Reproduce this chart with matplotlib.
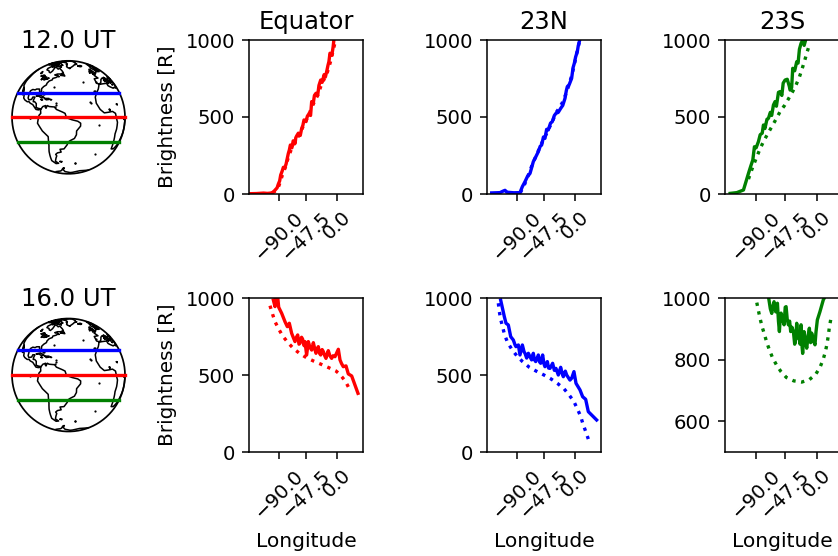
#!/usr/bin/env python3
import numpy as np
import matplotlib
matplotlib.use("Agg")
import matplotlib.pyplot as plt

WIDTH, HEIGHT = 838, 556
DPI = 100
CENTRAL_LON = -47.5
LINE_W = 2.4

times = ["12.0 UT", "16.0 UT"]
columns = ["Equator", "23N", "23S"]
colors = ["red", "blue", "green"]
line_lats = [0, 26, -26]
tick_lons = [-90.0, -47.5, 0.0]
tick_labels = ["\u221290.0", "\u221247.5", "0.0"]

# 12 UT, solid (measured) and dotted (model)
eq12_lon = [-135, -125, -114, -108, -103, -99, -96, -93, -91, -89, -87.4, -85, -83.3, -81, -79, -77, -75.5, -74, -72.4, -70, -68, -65, -64, -62.6, -60, -57, -54.8, -53, -51.2, -48, -46, -43, -41, -39.3, -37, -35, -32.6, -30, -28, -25.3, -23, -20, -18, -16, -14, -12.5, -10.9, -8, -6, -4.7]
eq12_val = [2, 3, 6, 4, 6, 12, 26, 40, 65, 85, 123, 150, 173, 170, 195, 235, 264, 285, 318, 300, 345, 329, 365, 377, 395, 380, 426, 445, 481, 470, 505, 524, 510, 600, 585, 640, 654, 640, 705, 740, 725, 775, 760, 795, 835, 860, 914, 900, 955, 1005]
eq12_dot_lon = [-100, -95, -90, -85, -80, -75, -70, -65, -60, -55, -50, -45, -40, -35, -30, -25, -20, -15, -10, -6, -3]
eq12_dot_val = [10, 20, 55, 120, 175, 245, 300, 335, 375, 415, 465, 500, 555, 600, 640, 700, 745, 790, 860, 930, 985]
n12_lon = [-129.3, -122, -116.4, -112, -108.6, -106, -103.5, -95, -85.4, -81.7, -77.6, -74, -69.8, -67, -64.7, -61, -56.9, -54, -51.7, -49, -46.6, -44, -41.4, -38, -35.2, -32, -29.5, -26, -22.2, -19, -15.5, -13.5, -11.9, -9, -5.2, -3, -1, 1, 3.6, 5, 6.7, 8]
n12_val = [7, 8, 9, 18, 24, 12, 11, 8, 9, 48, 80, 112, 134, 175, 210, 240, 275, 310, 318, 370, 361, 420, 416, 460, 470, 510, 524, 530, 556, 575, 621, 670, 697, 710, 751, 820, 849, 890, 924, 960, 989, 1010]
n12_dot_lon = [-85, -80, -75, -70, -65, -60, -55, -50, -45, -40, -35, -30, -25, -20, -15, -10, -5, -1, 3, 7]
n12_dot_val = [8, 45, 95, 150, 205, 250, 300, 345, 385, 430, 470, 525, 555, 590, 640, 700, 770, 840, 920, 990]
s12_lon = [-128.4, -118.5, -108.7, -105, -101.3, -98, -94.9, -92.5, -90, -86.6, -84, -81, -79.2, -77, -74, -71.8, -69, -67, -64.4, -62, -60, -57, -54.6, -52, -50, -47.2, -44, -41, -39.8, -37.5, -35.9, -33, -30, -28, -26, -23.6, -21, -19, -16.2]
s12_val = [4, 9, 26, 80, 134, 180, 221, 307, 300, 340, 385, 395, 448, 425, 485, 491, 530, 510, 578, 600, 570, 660, 665, 640, 720, 740, 745, 700, 675, 690, 816, 800, 859, 850, 940, 978, 1000, 965, 1010]
s12_dot_lon = [-101.3, -95, -89, -84, -79.2, -73, -66.9, -60, -54.6, -48, -42.3, -36, -31, -26, -22.6, -18, -15.2, -11.8]
s12_dot_val = [97, 175, 242, 295, 340, 390, 437, 490, 535, 575, 617, 665, 708, 760, 805, 870, 914, 961]

# 16 UT, solid (measured) and dotted (model)
eq16_lon = [-98.8, -96.2, -94.7, -92.1, -90.5, -85.9, -80.7, -77.1, -74, -70.4, -67.5, -65.2, -63, -61, -59, -57.4, -55, -53.3, -51, -49.7, -47.1, -44.5, -42, -39.3, -36.7, -34.5, -32.6, -31, -29, -27, -25.3, -23, -21.2, -19, -17.1, -15, -13.5, -11, -8.3, -6, -3.1, 2.1, 4.7, 7, 9.8, 14, 17.6, 22.8, 32.6]
eq16_val = [987, 944, 992, 1009, 940, 901, 846, 814, 836, 771, 740, 717, 745, 760, 700, 706, 745, 732, 690, 717, 630, 717, 680, 662, 710, 670, 641, 670, 684, 640, 630, 665, 652, 625, 608, 640, 658, 625, 608, 625, 619, 667, 598, 575, 554, 559, 507, 494, 381]
eq16_dot_lon = [-104, -100, -96.2, -90, -84.3, -76, -67.8, -58, -47.6, -36, -24.3, -13, -1.6, 3, 7.8, 12, 15, 18, 20.2]
eq16_dot_val = [950, 895, 846, 795, 753, 710, 673, 640, 613, 590, 569, 548, 526, 510, 487, 465, 444, 420, 396]
n16_lon = [-115.4, -109.7, -107.1, -103.5, -99.8, -95.7, -93, -91.6, -87.9, -85.4, -81.7, -79, -77.6, -75, -72.4, -70, -67.3, -64.7, -63, -61, -56.9, -55, -53.3, -50.2, -48, -46.6, -42.9, -41, -38.8, -34.7, -32, -29.5, -25.9, -22.2, -20, -18.1, -15, -12.9, -7.8, -5, -1.6, 1.6, 7.8, 11.9, 16.6, 20.7, 33.6]
n16_val = [987, 879, 836, 825, 749, 727, 695, 684, 695, 630, 695, 650, 641, 610, 641, 620, 598, 641, 600, 587, 630, 585, 576, 630, 570, 554, 587, 545, 543, 576, 530, 543, 500, 550, 510, 489, 525, 500, 467, 480, 522, 446, 403, 359, 342, 262, 208]
n16_dot_lon = [-119, -117.4, -115.4, -109.2, -104.5, -97.3, -90, -81.2, -70.9, -60.5, -49.1, -37.8, -27.4, -17.1, -9.8, -2.1, 3.6, 8.8, 12.4, 16.6, 20.7]
n16_dot_val = [966, 911, 862, 760, 710, 662, 623, 586, 550, 526, 502, 476, 446, 411, 374, 331, 281, 232, 182, 134, 84]
s16_lon = [-71.8, -69, -66.9, -65, -63.5, -61, -58.5, -57, -55.6, -54.5, -53.1, -51, -48.7, -47, -45.7, -44, -42.3, -40.5, -38.9, -37, -34.9, -33, -31.5, -30, -28, -26.6, -25, -23.6, -22, -21.2, -19.2, -17, -15.2, -13, -11.3, -9.5, -7.9, -5, -3, -1.5, 0.5, 4.4, 9.3, 10.8, 11.5]
s16_val = [1005, 965, 950, 975, 988, 955, 983, 925, 891, 930, 951, 930, 913, 970, 972, 930, 913, 925, 891, 905, 891, 850, 864, 918, 870, 886, 850, 913, 840, 820, 891, 860, 837, 880, 902, 855, 886, 860, 848, 890, 929, 956, 994, 1000, 1010]
s16_dot_lon = [-89, -86.6, -84.1, -81.2, -77.7, -74.3, -70.3, -65.9, -60, -53.6, -45.3, -34.4, -22.6, -11.3, -2, 4.4, 8.9, 12.3, 14.8, 16.7, 18.2, 20.2]
s16_dot_val = [985, 959, 933, 907, 882, 856, 831, 807, 783, 762, 742, 731, 727, 735, 752, 775, 799, 825, 851, 878, 904, 929]

# coastlines as (lon, lat) rings, rough but enough at this size
north_america = [(-135, 58), (-130, 54), (-128, 51), (-124, 48), (-124, 44), (-124, 40), (-122, 37), (-120, 34), (-117, 33), (-115, 30), (-113, 27), (-110, 23.5), (-112, 26), (-113, 30), (-114.5, 31.5), (-112, 29), (-109, 26), (-106, 23), (-105, 20), (-102, 18), (-97, 16), (-94, 16), (-92, 14.5), (-88, 13), (-86, 11), (-85, 10), (-83, 8), (-80, 7.5), (-78, 8), (-77, 8.5), (-80, 9), (-83, 10), (-83.5, 14), (-86, 16), (-88, 16), (-88, 18), (-87, 21), (-90, 21), (-91, 18.5), (-95, 18), (-97, 20), (-97.5, 25), (-97, 28), (-94, 29.5), (-90, 29), (-88, 30), (-84, 30), (-82.5, 27), (-81, 25), (-80, 27), (-81, 30.5), (-79, 33), (-76, 35), (-76, 37), (-74, 40), (-70, 41.5), (-70, 43.5), (-66, 44.5), (-64, 46), (-61, 46), (-65, 48), (-69, 48.5), (-65, 50), (-60, 50), (-56, 52), (-58, 54.5), (-62, 57.5), (-65, 60), (-68, 58.5), (-72, 61), (-78, 62.5), (-77, 58), (-77, 55), (-79, 52), (-82, 53), (-85, 55.5), (-92, 57), (-94, 60), (-90, 64), (-85, 66), (-82, 69), (-90, 69), (-95, 68), (-100, 68), (-108, 68), (-115, 68), (-125, 70), (-135, 69.5), (-140, 70)]
south_america = [(-77, 8.5), (-75, 11), (-72, 12), (-71, 10), (-70, 12), (-68, 11), (-62, 10.5), (-60, 8), (-55, 6), (-51, 4), (-50, 1), (-52, -1), (-48, -1), (-44, -2.5), (-38, -4), (-35, -6), (-35, -9), (-39, -14), (-39, -18), (-41, -22), (-45, -24), (-48, -26), (-49, -29), (-53, -34), (-58, -34.5), (-57, -38), (-62, -39), (-65, -41), (-64, -43), (-66, -46), (-69, -51), (-65, -54.5), (-70, -55), (-75, -50), (-74, -43), (-73, -37), (-71, -30), (-70, -20), (-76, -14), (-81, -6), (-80, -2), (-79, 2), (-77, 4), (-77.5, 8)]
greenland = [(-45, 60), (-50, 62), (-52, 64), (-51, 67), (-54, 69), (-51, 71), (-58, 75), (-70, 77), (-65, 81), (-50, 82), (-40, 83.5), (-20, 82), (-22, 78), (-20, 75), (-25, 72), (-22, 70), (-32, 68), (-35, 66), (-42, 62), (-45, 60)]
eurasia_africa = [(40, 65), (34, 66), (40, 67), (30, 70), (20, 70), (10, 64), (5, 60), (8, 58), (12, 56), (18, 60), (22, 65), (25, 65), (22, 60), (30, 60), (22, 58), (20, 54), (12, 54), (10, 57), (8, 54), (4, 52), (-2, 49), (-5, 48), (-1, 44), (-9, 43), (-9, 37), (-5, 36), (-1, 38), (3, 42), (8, 44), (12, 42), (16, 38), (18, 40), (13, 45), (19, 42), (22, 37), (24, 40), (28, 41), (36, 36.5), (35, 32), (32, 31), (25, 32), (20, 31), (15, 32), (10, 34), (10, 37), (2, 36.5), (-6, 35.5), (-10, 30), (-13, 27), (-17, 21), (-17, 14.5), (-15, 11), (-13, 8), (-8, 4.5), (-3, 5), (4, 6), (9, 4), (10, 0), (13, -5), (13, -12), (12, -17), (15, -27), (18, -34), (25, -34), (32, -29), (35, -22), (40, -15), (39, -5), (42, -1)]
black_sea = [(28, 44), (31, 46), (37, 45), (41, 42), (35, 42), (28, 41.5), (28, 44)]
antarctica = [(-100, -74), (-75, -72), (-68, -70), (-60, -64), (-57, -63.5), (-62, -68), (-60, -74), (-40, -78), (-30, -77), (-10, -71), (10, -70), (30, -69)]
baffin = [(-64, 63), (-68, 66), (-62, 67), (-68, 70), (-75, 72.5), (-85, 73), (-80, 70), (-73, 68), (-78, 65), (-72, 63.5), (-64, 63)]
victoria = [(-105, 69), (-115, 70), (-118, 72), (-108, 73), (-105, 69)]
ellesmere = [(-80, 76), (-90, 77), (-90, 81), (-70, 83), (-62, 82), (-75, 79), (-80, 76)]
axel_heiberg = [(-88, 79), (-95, 79.5), (-92, 81), (-88, 80), (-88, 79)]
banks = [(-120, 72), (-125, 72), (-122, 74.5), (-116, 73.5), (-120, 72)]
somerset = [(-95, 72), (-90, 74), (-97, 75), (-100, 73), (-95, 72)]
prince_of_wales = [(-97, 72), (-102, 72), (-100, 74), (-97, 73.5), (-97, 72)]
devon = [(-80, 74.5), (-92, 74.7), (-92, 76), (-82, 75.8), (-80, 74.5)]
melville = [(-105, 75), (-117, 75), (-115, 76.5), (-105, 76), (-105, 75)]
bathurst = [(-97, 75.5), (-102, 75.5), (-100, 77), (-97, 76.5), (-97, 75.5)]
king_william = [(-95, 69), (-99, 69), (-98, 70), (-95, 69)]
southampton = [(-81, 63.5), (-87, 63), (-85, 65.5), (-81, 63.5)]
melville_pen = [(-81, 67), (-86, 67), (-84, 69.5), (-81, 69), (-81, 67)]
newfoundland = [(-59, 48), (-53, 47), (-56, 51), (-59, 48)]
iceland = [(-24, 65), (-22, 64), (-18, 63.5), (-14, 65), (-17, 66.5), (-24, 65)]
cuba = [(-85, 22), (-80, 23), (-75, 20.5), (-78, 20), (-82, 22), (-85, 22)]
hispaniola = [(-74, 19.5), (-69, 19.5), (-68.5, 18.5), (-72, 18), (-74, 19.5)]
jamaica = [(-78, 18.3), (-76.3, 18), (-77.5, 17.8), (-78, 18.3)]
puerto_rico = [(-67, 18.3), (-65.8, 18.2), (-66.5, 18), (-67, 18.3)]
britain = [(-5, 50), (1, 51), (0, 54), (-2, 56), (-3, 58.5), (-6, 57), (-3, 54), (-5, 52), (-5, 50)]
ireland = [(-10, 52), (-6, 52), (-6, 55), (-9, 54.5), (-10, 52)]
falklands = [(-61, -51.5), (-58, -51.5), (-59, -52.3), (-61, -51.5)]
sicily = [(12.5, 38), (15.5, 38), (15, 36.7), (12.5, 38)]
sardinia = [(8.3, 41), (9.7, 41), (9.5, 39), (8.5, 39), (8.3, 41)]
crete = [(23.5, 35.5), (26.2, 35.2), (24, 35), (23.5, 35.5)]
superior = [(-92, 46.8), (-88, 48.5), (-85, 47.5), (-87, 46.5), (-92, 46.8)]
michigan = [(-87.5, 42), (-87.5, 45.5), (-85.5, 45.5), (-86.5, 42), (-87.5, 42)]
huron = [(-84, 46), (-80, 45), (-82, 43), (-84, 44), (-84, 46)]
erie_ontario = [(-83, 42), (-79, 43), (-76, 44), (-77, 43.3), (-79, 42.5), (-83, 41.6), (-83, 42)]
winnipeg = [(-98, 51), (-96, 51), (-98, 54), (-99, 53.5), (-98, 51)]
maracaibo = [(-72, 10.5), (-71, 10.5), (-71.3, 9.2), (-72, 10.5)]
victoria_lake = [(32, 0), (34, 0), (33.5, -2.5), (32, -2), (32, 0)]
volta = [(-0.5, 8), (0.5, 8), (0, 6.5), (-0.5, 8)]
chad = [(13.5, 13.5), (15, 13.5), (14.5, 12.5), (13.5, 13.5)]
specks = [(-91, -0.5), (-90.5, -0.9), (-37, -54.3), (-36.5, -54.5), (-16, 28.3), (-15.5, 28), (-24, 16), (-23.5, 15), (-28, 38.5), (-61, 15), (-61, 13), (-61.5, 11), (-77.5, 24.5), (-76, 24), (-78, 26.5), (-65, 32.3), (-9, 39), (-14, -8), (-10, -40)]
coasts = [north_america, south_america, greenland, eurasia_africa, black_sea, antarctica, baffin, victoria, ellesmere, axel_heiberg, banks, somerset, prince_of_wales, devon, melville, bathurst, king_william, southampton, melville_pen, newfoundland, iceland, cuba, hispaniola, jamaica, puerto_rico, britain, ireland, falklands, sicily, sardinia, crete, superior, michigan, huron, erie_ontario, winnipeg, maracaibo, victoria_lake, volta, chad]


def pixel_axes(fig, left, top, right, bottom):
    return fig.add_axes([left / WIDTH, 1 - bottom / HEIGHT, (right - left) / WIDTH, (bottom - top) / HEIGHT])


def project(lon, lat):
    lam = np.radians(np.asarray(lon, dtype=float) - CENTRAL_LON)
    phi = np.radians(np.asarray(lat, dtype=float))
    x = np.cos(phi) * np.sin(lam)
    y = np.sin(phi)
    return np.where(np.cos(phi) * np.cos(lam) < 0, np.nan, x), y


def densify(ring, n=6):
    lon = [p[0] for p in ring]
    lat = [p[1] for p in ring]
    t = np.arange(len(ring))
    tt = np.linspace(0, len(ring) - 1, (len(ring) - 1) * n + 1)
    return np.interp(tt, t, lon), np.interp(tt, t, lat)


def draw_globe(fig, cx, cy, title):
    r = 56.5
    ax = pixel_axes(fig, cx - r, cy - r, cx + r, cy + r)
    ax.set_xlim(-1, 1)
    ax.set_ylim(-1, 1)
    ax.axis("off")
    for ring in coasts:
        x, y = project(*densify(ring))
        ax.plot(x, y, color="black", lw=1.1, clip_on=False)
    x, y = project([p[0] for p in specks], [p[1] for p in specks])
    ax.plot(x, y, ls="none", marker="o", ms=1.6, color="black", mew=0)
    theta = np.radians(np.arange(0, 361, 2))
    ax.plot(np.cos(theta), np.sin(theta), color="black", lw=1.25, clip_on=False)
    for lat, color in zip(line_lats, colors):
        x, y = project([CENTRAL_LON - 90, CENTRAL_LON + 90], [lat, lat])
        ax.plot(x, y, color=color, lw=LINE_W, clip_on=False)
    fig.text(cx / WIDTH, 1 - (cy - r - 8) / HEIGHT, title, fontsize=17.5, ha="center", va="bottom")


def draw_panel(fig, left, top, right, lon, val, dot_lon, dot_val, color, xlim, ylim, yticks):
    ax = pixel_axes(fig, left, top, right, top + 154)
    ax.plot(lon, val, color=color, lw=LINE_W)
    ax.plot(dot_lon, dot_val, color=color, lw=LINE_W, ls=":")
    ax.set_xlim(*xlim)
    ax.set_ylim(*ylim)
    ax.set_yticks(yticks)
    ax.set_xticks(tick_lons)
    ax.set_xticklabels(tick_labels, rotation=45)
    ax.tick_params(labelsize=14.1, length=5, width=1.1, pad=5)
    for spine in ax.spines.values():
        spine.set_linewidth(1.1)
    return ax


def main():
    fig = plt.figure(figsize=(WIDTH / DPI, HEIGHT / DPI), dpi=DPI)
    lefts = [249, 487, 725]
    xlims = [(-136.6, 40.4), (-136.6, 40.4), (-136, 32.5)]
    tops = [40, 298]
    rows = [
        [(eq12_lon, eq12_val, eq12_dot_lon, eq12_dot_val), (n12_lon, n12_val, n12_dot_lon, n12_dot_val), (s12_lon, s12_val, s12_dot_lon, s12_dot_val)],
        [(eq16_lon, eq16_val, eq16_dot_lon, eq16_dot_val), (n16_lon, n16_val, n16_dot_lon, n16_dot_val), (s16_lon, s16_val, s16_dot_lon, s16_dot_val)],
    ]
    for i, row in enumerate(rows):
        draw_globe(fig, 68.5, [117.3, 375][i], times[i])
        for j, series in enumerate(row):
            ylim, yticks = (0, 1000), [0, 500, 1000]
            if i == 1 and j == 2:
                ylim, yticks = (500, 1000), [600, 800, 1000]
            ax = draw_panel(fig, lefts[j], tops[i], lefts[j] + 114, *series, colors[j], xlims[j], ylim, yticks)
            if i == 0:
                ax.set_title(columns[j], fontsize=17.5, pad=8)
            else:
                ax.set_xlabel("Longitude", fontsize=14.6, labelpad=7)
            if j == 0:
                ax.set_ylabel("Brightness [R]", fontsize=14.4, labelpad=6)
    fig.savefig("out.png", dpi=DPI)


if __name__ == "__main__":
    main()
